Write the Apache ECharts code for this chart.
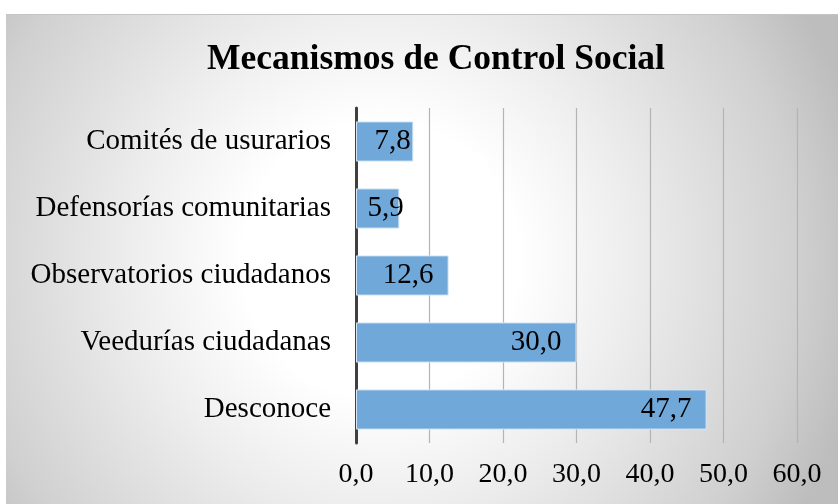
<!DOCTYPE html>
<html>
<head>
<meta charset="utf-8">
<script src="https://cdn.jsdelivr.net/npm/echarts@6/dist/echarts.min.js"></script>
<style>
  html, body { margin: 0; padding: 0; background: #fff; }
  #main { width: 838px; height: 504px; }
</style>
</head>
<body>
<div id="main"></div>
<script>
var categories = ['Desconoce', 'Veedurías ciudadanas', 'Observatorios ciudadanos', 'Defensorías comunitarias', 'Comités de usurarios'];
var values = [47.7, 30.0, 12.6, 5.9, 7.8];
var xTicks = [0, 10, 20, 30, 40, 50, 60];

var serif = '"Liberation Serif", "Times New Roman", serif';

function fmt(v) {
    return v.toFixed(1).replace('.', ',');
}

// short bars: label centred, long bars: label at inner end
var barData = values.map(function (v) {
    if (v < 10) {
        return { value: v, label: { position: 'inside', offset: [8, 0] } };
    }
    return v;
});

var myChart = echarts.init(document.getElementById('main'));
var option = {
    backgroundColor: '#fff',
    graphic: [{
        type: 'rect',
        z: -10,
        silent: true,
        shape: { x: 6, y: 14, width: 832, height: 490 },
        style: {
            fill: new echarts.graphic.RadialGradient(0.45, 0.5, 1.0, [
                { offset: 0, color: '#ffffff' },
                { offset: 0.28, color: '#ffffff' },
                { offset: 0.5, color: '#eeeeee' },
                { offset: 0.85, color: '#d0d0d0' },
                { offset: 1, color: '#bdbdbd' }
            ])
        },
    }, {
        type: 'line',
        z: -9,
        silent: true,
        shape: { x1: 6, y1: 14.5, x2: 838, y2: 14.5 },
        style: { stroke: '#c4c4c4', lineWidth: 1 }
    }],
    title: {
        text: 'Mecanismos de Control Social',
        left: 431,
        textAlign: 'center',
        top: 37,
        textStyle: { fontFamily: serif, fontSize: 35.5, fontWeight: 'bold', color: '#000' }
    },
    grid: { left: 356, right: 41, top: 108, bottom: 61 },
    xAxis: {
        type: 'value',
        min: xTicks[0],
        max: xTicks[xTicks.length - 1],
        interval: 10,
        axisLine: { show: false },
        axisTick: { show: false },
        splitLine: { show: true, lineStyle: { color: '#b4b4b4', width: 1.2 } },
        axisLabel: {
            formatter: fmt,
            margin: 18,
            fontFamily: serif, fontSize: 28, color: '#000'
        }
    },
    yAxis: {
        type: 'category',
        data: categories,
        axisLine: { show: true, lineStyle: { color: '#404040', width: 3 } },
        axisTick: { show: false },
        axisLabel: { margin: 25, fontFamily: serif, fontSize: 29, color: '#000' }
    },
    series: [{
        type: 'bar',
        data: barData,
        barWidth: '60%',
        itemStyle: { color: '#70a8da', borderColor: '#d6e6f4', borderWidth: 1 },
        label: {
            show: true,
            position: 'insideRight',
            distance: 15,
            formatter: function (p) { return fmt(p.value); },
            fontFamily: serif, fontSize: 29, color: '#000'
        }
    }]
};
myChart.setOption(option);
</script>
</body>
</html>
